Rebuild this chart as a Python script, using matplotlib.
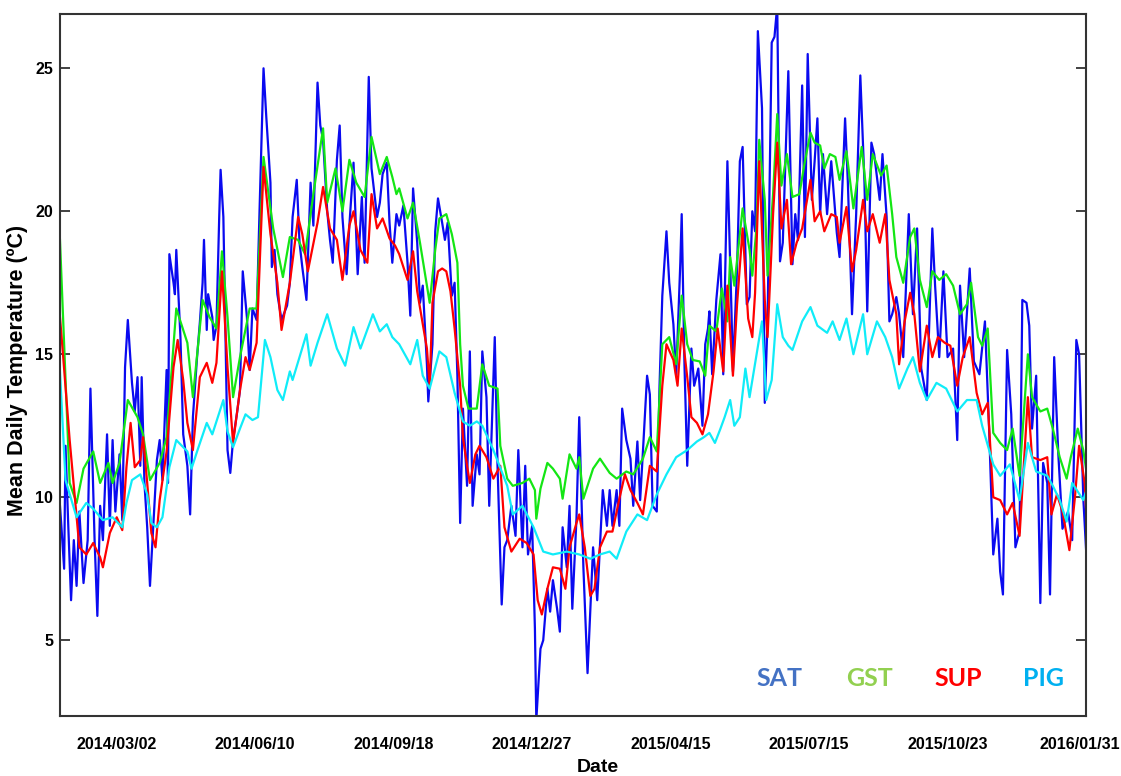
"""Mean daily temperature series (SAT / GST / SUP / PIG), Jan 2014 - Jan 2016."""
import matplotlib
matplotlib.use("Agg")
import matplotlib.pyplot as plt
import matplotlib.dates as mdates
import matplotlib.ticker as mticker
import matplotlib.transforms as mtransforms
import numpy as np
import pandas as pd

START = "2014-01-20"
END = "2016-01-31"

# (days since START, deg C)
sat_pts = [
    (0, 9.7), (1, 9.0), (3, 7.5), (4, 11.8), (6, 9.0), (8, 6.4), (10, 8.5), (12, 6.9), (14, 9.5),
    (17, 7.0), (20, 8.5), (22, 13.8), (25, 8.5), (27, 5.85), (29, 9.7), (31, 8.5), (34, 12.2),
    (36, 9.0), (38, 12.0), (40, 9.5), (43, 11.5), (45, 9.2), (47, 14.55), (49, 16.2), (52, 14.0),
    (54, 13.0), (56, 14.2), (58, 11.1), (59, 14.2), (61, 10.5), (63, 8.95), (65, 6.9), (68, 9.5),
    (70, 11.3), (72, 12.0), (74, 10.6), (77, 14.45), (78, 10.5), (79, 18.5), (82, 17.5), (83, 17.1),
    (84, 18.65), (87, 15.6), (89, 12.2), (92, 11.1), (94, 9.4), (96, 12.8), (99, 14.9), (101, 16.1),
    (103, 17.5), (104, 19.0), (106, 15.85), (107, 17.1), (110, 16.3), (111, 15.5), (113, 16.0),
    (115, 19.8), (116, 21.45), (118, 19.8), (121, 11.65), (123, 10.85), (125, 12.0), (128, 13.0),
    (130, 13.75), (132, 17.9), (135, 16.3), (137, 14.45), (139, 16.6), (142, 16.2), (144, 19.8),
    (147, 25.0), (149, 23.3), (152, 21.0), (153, 18.05), (155, 18.65), (157, 17.1), (160, 16.2),
    (164, 16.7), (166, 17.5), (168, 19.8), (171, 21.1), (173, 18.9), (175, 18.05), (178, 16.9),
    (181, 21.0), (183, 19.5), (186, 24.5), (188, 23.0), (190, 22.5), (193, 20.0), (195, 19.0),
    (197, 18.2), (200, 21.8), (202, 23.0), (204, 19.8), (207, 17.8), (209, 19.5), (212, 21.7),
    (215, 17.8), (218, 20.5), (220, 18.2), (223, 24.7), (225, 21.5), (229, 19.8), (231, 20.3),
    (233, 21.3), (236, 21.7), (238, 19.6), (240, 18.2), (243, 19.9), (245, 19.5), (248, 20.2),
    (251, 18.2), (253, 16.35), (255, 20.8), (258, 18.9), (260, 16.8), (262, 17.4), (265, 14.65),
    (266, 13.35), (269, 15.35), (271, 19.3), (273, 20.45), (276, 19.6), (278, 19.0), (280, 19.6),
    (283, 17.05), (285, 17.5), (287, 14.25), (289, 9.1), (291, 13.1), (294, 10.4), (296, 15.1),
    (298, 9.7), (301, 11.5), (303, 10.8), (305, 15.1), (308, 13.5), (310, 9.7), (314, 15.6),
    (316, 11.1), (319, 6.25), (321, 8.25), (323, 8.5), (326, 9.7), (329, 8.65), (331, 11.65),
    (334, 8.25), (336, 11.1), (338, 8.0), (341, 9.0), (343, 5.4), (344, 2.2), (347, 4.7), (349, 5.0),
    (352, 6.8), (354, 6.0), (356, 7.1), (359, 6.1), (361, 5.3), (363, 8.95), (366, 7.55), (368, 9.7),
    (370, 6.1), (373, 9.25), (375, 12.8), (378, 7.55), (381, 3.85), (385, 8.25), (388, 6.4),
    (390, 8.3), (392, 10.25), (395, 9.0), (397, 10.25), (399, 9.0), (402, 10.25), (404, 9.0),
    (406, 13.1), (409, 12.0), (412, 11.35), (414, 9.7), (417, 11.95), (419, 9.9), (421, 11.6),
    (424, 14.25), (426, 13.6), (428, 9.7), (431, 9.5), (433, 13.9), (435, 17.05), (438, 19.3),
    (440, 17.5), (443, 16.05), (445, 14.25), (448, 18.2), (449, 19.9), (451, 14.65), (453, 11.1),
    (456, 15.2), (458, 13.9), (461, 14.5), (464, 12.5), (466, 15.35), (468, 15.9), (469, 16.5),
    (471, 14.3), (474, 16.9), (477, 18.5), (479, 14.3), (482, 21.75), (485, 16.4), (486, 14.4),
    (489, 18.0), (491, 21.75), (493, 22.25), (496, 16.75), (498, 17.0), (500, 20.0), (502, 19.3),
    (504, 26.3), (507, 23.6), (509, 13.3), (511, 16.15), (514, 25.9), (516, 26.1), (518, 27.2),
    (520, 18.25), (522, 18.9), (526, 24.9), (529, 18.15), (531, 19.9), (533, 19.0), (536, 24.4),
    (538, 19.1), (540, 25.5), (543, 20.4), (545, 21.75), (547, 23.25), (549, 19.9), (551, 22.0),
    (554, 19.9), (557, 21.75), (561, 19.25), (563, 18.4), (567, 23.25), (569, 21.0), (572, 16.4),
    (575, 19.9), (578, 24.75), (581, 21.0), (583, 16.5), (586, 22.4), (588, 22.0), (592, 20.4),
    (594, 22.0), (597, 19.8), (599, 16.15), (601, 16.4), (604, 17.0), (606, 16.4), (609, 14.9),
    (613, 19.9), (616, 16.4), (619, 19.4), (622, 14.5), (626, 13.4), (630, 19.4), (632, 17.4),
    (635, 14.9), (638, 17.9), (641, 14.9), (645, 15.2), (648, 12.0), (650, 17.4), (653, 14.9),
    (657, 18.0), (660, 14.75), (664, 14.3), (668, 16.15), (671, 12.4), (674, 8.0), (677, 9.25),
    (679, 7.4), (681, 6.6), (684, 15.15), (687, 12.9), (690, 8.25), (693, 8.8), (695, 16.9),
    (698, 16.8), (700, 16.0), (702, 12.4), (705, 14.25), (708, 6.3), (710, 11.2), (713, 10.5),
    (715, 6.6), (718, 14.9), (721, 11.5), (724, 8.9), (728, 9.5), (731, 8.5), (734, 15.5),
    (736, 15.0), (739, 10.0), (741, 8.2),
]

gst_pts = [
    (0, 19.0), (7, 10.5), (12, 9.8), (17, 11.0), (24, 11.6), (29, 10.5), (35, 11.2), (38, 10.5),
    (43, 11.2), (49, 13.4), (56, 12.8), (60, 12.2), (65, 10.6), (72, 11.2), (77, 12.1), (84, 16.6),
    (92, 15.4), (96, 13.5), (103, 16.9), (108, 16.3), (113, 15.9), (117, 18.6), (121, 16.3),
    (125, 13.5), (130, 14.9), (137, 16.6), (142, 16.6), (147, 21.9), (154, 19.4), (161, 17.7),
    (166, 19.1), (172, 19.0), (177, 18.5), (183, 20.6), (190, 22.9), (193, 20.3), (199, 21.5),
    (204, 20.0), (209, 21.8), (214, 21.0), (220, 20.5), (225, 22.6), (231, 21.3), (236, 21.9),
    (240, 21.2), (243, 20.6), (245, 20.8), (251, 19.75), (255, 20.3), (260, 18.9), (267, 16.8),
    (271, 18.65), (274, 19.75), (279, 19.9), (283, 19.2), (287, 18.2), (289, 15.35), (291, 13.9),
    (295, 13.1), (301, 13.1), (305, 14.65), (310, 13.9), (316, 13.8), (318, 11.8), (323, 10.65),
    (327, 10.4), (334, 10.5), (339, 10.65), (343, 10.25), (344, 9.25), (347, 10.3), (352, 11.2),
    (356, 11.0), (361, 10.65), (363, 9.95), (368, 11.5), (373, 11.0), (375, 11.4), (378, 9.95),
    (385, 11.0), (390, 11.35), (397, 10.85), (402, 10.65), (409, 10.9), (414, 10.8), (421, 11.35),
    (426, 12.1), (431, 11.6), (435, 15.35), (440, 15.6), (445, 14.65), (449, 17.05), (453, 15.35),
    (457, 14.8), (462, 14.75), (466, 14.25), (469, 16.0), (474, 15.8), (478, 17.3), (482, 16.15),
    (484, 18.4), (487, 17.4), (493, 20.1), (498, 18.65), (500, 17.75), (503, 19.4), (505, 22.5),
    (509, 20.4), (511, 17.75), (515, 20.6), (518, 23.4), (521, 20.9), (525, 22.0), (529, 20.5),
    (534, 20.6), (538, 21.75), (542, 22.75), (545, 22.4), (549, 22.3), (552, 21.5), (556, 22.0),
    (560, 21.9), (563, 21.1), (568, 22.1), (573, 20.1), (579, 22.25), (583, 20.4), (587, 22.0),
    (593, 21.25), (597, 21.6), (601, 19.9), (604, 18.4), (609, 17.5), (614, 19.1), (617, 19.4),
    (621, 17.6), (626, 16.65), (630, 17.9), (635, 17.6), (640, 17.8), (645, 17.4), (650, 16.4),
    (655, 16.75), (658, 17.5), (663, 15.6), (666, 15.3), (670, 15.9), (674, 12.25), (679, 11.9),
    (684, 11.65), (688, 12.4), (693, 10.75), (699, 15.0), (702, 13.5), (708, 13.0), (713, 13.1),
    (717, 12.4), (722, 11.4), (727, 10.65), (730, 11.4), (735, 12.4), (739, 11.65), (741, 11.0),
]

sup_pts = [
    (0, 16.3), (2, 15.1), (7, 12.0), (12, 9.3), (14, 8.25), (19, 8.0), (24, 8.4), (29, 7.9),
    (31, 7.55), (36, 8.75), (41, 9.3), (45, 8.85), (48, 11.05), (51, 12.6), (54, 11.05), (58, 11.3),
    (60, 12.1), (63, 10.5), (66, 8.75), (69, 8.25), (72, 9.9), (77, 11.6), (82, 14.55), (85, 15.5),
    (89, 14.1), (92, 12.6), (96, 11.65), (101, 14.2), (106, 14.7), (110, 14.0), (113, 14.7),
    (117, 17.9), (121, 14.55), (125, 11.9), (130, 13.75), (134, 14.9), (137, 14.45), (142, 15.4),
    (147, 21.55), (152, 19.2), (157, 17.5), (160, 15.85), (166, 17.5), (172, 19.8), (175, 19.2),
    (179, 17.9), (186, 19.6), (190, 20.85), (195, 19.4), (200, 19.0), (204, 17.6), (209, 19.5),
    (212, 20.0), (217, 18.65), (222, 18.2), (225, 20.6), (229, 19.4), (233, 19.75), (238, 19.05),
    (242, 18.8), (245, 18.5), (249, 17.9), (251, 17.6), (255, 18.6), (258, 17.2), (262, 16.05),
    (265, 15.2), (267, 13.9), (269, 16.8), (273, 17.9), (276, 18.0), (279, 17.9), (282, 17.2),
    (285, 15.9), (289, 13.9), (291, 12.1), (294, 11.1), (296, 10.5), (300, 11.5), (303, 11.8),
    (308, 11.4), (313, 10.65), (318, 11.1), (321, 8.95), (326, 8.1), (332, 8.55), (337, 8.4),
    (342, 8.0), (345, 6.4), (348, 5.9), (352, 6.8), (356, 7.55), (361, 7.5), (365, 6.8), (368, 8.25),
    (373, 9.1), (375, 9.4), (379, 8.25), (383, 6.55), (386, 6.8), (390, 8.25), (395, 8.8),
    (399, 8.8), (404, 9.95), (408, 10.8), (412, 10.25), (417, 9.8), (421, 9.4), (426, 11.1),
    (431, 10.9), (435, 13.9), (438, 15.35), (443, 14.8), (446, 13.9), (449, 15.9), (453, 14.2),
    (456, 12.8), (460, 12.6), (464, 12.2), (468, 12.9), (472, 14.4), (475, 15.9), (479, 14.4),
    (482, 17.4), (486, 14.25), (489, 16.75), (493, 19.4), (497, 16.25), (500, 15.6), (502, 17.15),
    (505, 21.75), (509, 16.9), (511, 15.6), (515, 19.9), (518, 22.4), (521, 19.4), (525, 20.4),
    (528, 18.15), (532, 18.9), (536, 19.4), (542, 21.1), (545, 19.65), (549, 20.0), (552, 19.3),
    (557, 19.9), (561, 19.8), (563, 18.9), (568, 20.15), (572, 17.9), (575, 18.65), (580, 20.4),
    (583, 19.3), (587, 19.9), (592, 18.9), (596, 19.9), (599, 17.6), (604, 16.4), (606, 14.65),
    (610, 16.15), (614, 17.15), (617, 16.4), (621, 14.4), (626, 16.0), (630, 14.9), (634, 15.6),
    (639, 15.4), (643, 15.3), (648, 13.9), (652, 14.9), (657, 15.6), (662, 13.65), (666, 12.9),
    (670, 13.3), (674, 10.0), (679, 9.9), (684, 9.4), (688, 9.8), (693, 8.65), (699, 13.5),
    (702, 11.4), (708, 11.3), (713, 11.4), (716, 9.4), (720, 10.1), (724, 9.5), (729, 8.15),
    (733, 10.0), (736, 11.8), (740, 10.5), (741, 9.6),
]

pig_pts = [
    (0, 14.4), (4, 10.6), (12, 9.3), (19, 9.8), (24, 9.6), (31, 9.2), (38, 9.3), (45, 8.95),
    (48, 9.8), (52, 10.6), (58, 10.8), (63, 10.1), (66, 9.1), (70, 8.95), (74, 9.3), (79, 11.05),
    (84, 12.0), (92, 11.6), (95, 11.0), (99, 11.6), (106, 12.6), (110, 12.2), (118, 13.4),
    (121, 12.3), (125, 11.75), (130, 12.4), (134, 12.9), (139, 12.7), (143, 12.8), (148, 15.5),
    (152, 14.9), (157, 13.75), (161, 13.4), (166, 14.4), (168, 14.1), (178, 15.7), (181, 14.6),
    (186, 15.4), (193, 16.4), (200, 15.2), (206, 14.6), (212, 15.95), (217, 15.2), (226, 16.4),
    (231, 15.8), (236, 16.05), (240, 15.6), (245, 15.35), (253, 14.65), (258, 15.5), (262, 14.25),
    (267, 13.8), (274, 15.1), (279, 14.9), (285, 13.65), (291, 12.65), (296, 12.5), (301, 12.65),
    (305, 12.5), (313, 11.65), (323, 10.4), (327, 9.4), (334, 9.7), (342, 8.95), (349, 8.1),
    (356, 8.0), (366, 8.1), (375, 8.0), (383, 7.85), (390, 8.0), (397, 8.1), (402, 7.85),
    (409, 8.8), (417, 9.4), (424, 9.2), (431, 10.1), (438, 10.8), (445, 11.4), (453, 11.65),
    (460, 11.95), (465, 12.1), (469, 12.25), (473, 11.9), (477, 12.4), (480, 12.8), (484, 13.4),
    (487, 12.5), (491, 12.8), (495, 14.5), (498, 13.5), (507, 16.15), (510, 13.4), (514, 14.1),
    (518, 16.75), (522, 15.6), (526, 15.3), (529, 15.15), (536, 16.15), (542, 16.65), (547, 16.0),
    (554, 15.75), (558, 16.15), (563, 15.5), (568, 16.25), (573, 15.0), (580, 16.4), (583, 15.0),
    (590, 16.15), (596, 15.6), (601, 14.9), (606, 13.8), (612, 14.5), (616, 14.9), (621, 14.0),
    (626, 13.4), (633, 14.0), (640, 13.8), (648, 13.0), (655, 13.4), (662, 13.4), (666, 12.5),
    (674, 11.15), (679, 10.75), (686, 11.15), (693, 9.9), (699, 11.9), (705, 10.9), (713, 10.75),
    (717, 10.4), (722, 9.9), (727, 9.15), (731, 10.5), (739, 9.9), (741, 10.2),
]

names = ["SAT", "GST", "SUP", "PIG"]
line_colors = ["#0a0af0", "#14e614", "#ff0000", "#10ecf8"]
legend_colors = ["#4472c4", "#92d050", "#ff0000", "#00b0f0"]

tick_labels = ["2014/03/02", "2014/06/10", "2014/09/18", "2014/12/27",
               "2015/04/15", "2015/07/15", "2015/10/23", "2016/01/31"]
FIRST_TICK = "2014-03-02"
TICK_STEP_DAYS = 100
marked_ticks = ["2014-06-10", "2014-12-27", "2015-07-15"]
y_ticks = [5, 10, 15, 20, 25]
Y_LIM = (2.35, 26.9)


def to_series(pts):
    d, v = zip(*pts)
    return pd.Timestamp(START) + pd.to_timedelta(list(d), unit="D"), np.array(v)


def main():
    plt.rcParams["font.family"] = ["Liberation Sans", "DejaVu Sans"]
    fig = plt.figure(figsize=(11.21, 7.76), dpi=100)
    ax = fig.add_axes([0.0535, 0.0773, 0.9153, 0.9047])

    for pts, c in zip([sat_pts, gst_pts, sup_pts, pig_pts], line_colors):
        x, y = to_series(pts)
        ax.plot(x, y, color=c, lw=1.6, solid_joinstyle="round")

    ax.set_xlim(pd.Timestamp(START), pd.Timestamp(END))
    ax.set_ylim(*Y_LIM)

    locs = [pd.Timestamp(FIRST_TICK) + pd.Timedelta(days=TICK_STEP_DAYS * k) for k in range(len(tick_labels))]
    ax.set_xticks(mdates.date2num(locs))
    ax.set_xticklabels(tick_labels, fontsize=11.5, fontweight="bold")
    ax.tick_params(axis="x", which="major", length=0, pad=15)
    ax.xaxis.set_minor_locator(mticker.FixedLocator(mdates.date2num(pd.to_datetime(marked_ticks))))
    ax.tick_params(axis="x", which="minor", direction="in", length=8.5, width=1.3,
                   top=True, bottom=True, color="#333333")
    # last date label sits a bit left of the corner so it stays on the page
    last = ax.get_xticklabels()[-1]
    last.set_transform(last.get_transform() + mtransforms.ScaledTranslation(-0.06, 0, fig.dpi_scale_trans))

    ax.set_yticks(y_ticks)
    ax.set_yticklabels([str(t) for t in y_ticks], fontsize=11.5, fontweight="bold")
    ax.tick_params(axis="y", direction="in", length=7, width=1.3, right=True, pad=5,
                   color="#333333")

    for s in ax.spines.values():
        s.set_linewidth(1.5)
        s.set_color("#333333")

    fig.text(0.016, 0.523, "Mean Daily Temperature (ºC)", rotation=90, ha="center", va="center",
             fontsize=15.5, fontweight="bold")
    fig.text(0.533, 0.0105, "Date", ha="center", va="center", fontsize=14, fontweight="bold")

    leg_x = [0.695, 0.776, 0.855, 0.931]
    for n, c, lx in zip(names, legend_colors, leg_x):
        fig.text(lx, 0.126, n, color=c, ha="center", va="center", fontsize=18,
                 fontweight="bold", family=["Lato", "DejaVu Sans"])

    fig.savefig("out.png", dpi=100)
    plt.close(fig)


if __name__ == "__main__":
    main()
